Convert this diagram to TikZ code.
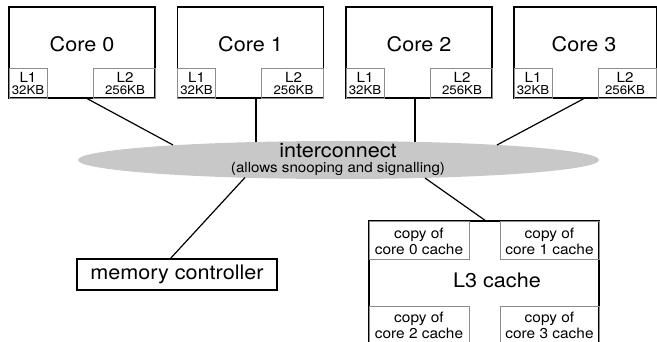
\documentclass[tikz,border=0pt]{standalone}
\usepackage{fontspec}
\setmainfont{TeX Gyre Heros}[FakeStretch=1.08]
\usetikzlibrary{shapes.geometric,calc}
\definecolor{ellgray}{HTML}{C8C8C8}
\definecolor{boxgray}{HTML}{8C8C8C}
\tikzset{
  outerbox/.style={draw=black, line width=1.2pt, inner sep=0pt, outer sep=0pt},
  innerbox/.style={draw=boxgray, line width=0.9pt, inner sep=0pt, outer sep=0pt},
  big/.style={font=\fontsize{20}{22}\selectfont, inner sep=0pt},
  lbl/.style={font=\fontsize{14}{14}\selectfont, inner sep=0pt, anchor=base},
  kb/.style={font=\fontsize{12.3}{12}\selectfont, inner sep=0pt, anchor=base},
  cpy/.style={font=\fontsize{14.3}{16}\selectfont, align=center, inner sep=0pt},
  conn/.style={draw=black, line width=1.2pt},
}
\begin{document}
\begin{tikzpicture}[x=1pt,y=-1pt]
\useasboundingbox (0,0) rectangle (657,342);
\clip (0,0) rectangle (657,342);
% cores
\foreach \n/\x/\w/\lw/\tx/\ltx in {0/9/146/62/82/125, 1/177.5/146/62/250.5/293.5, 2/346/146/62/419/462, 3/514/142.7/58.7/584/625}{
  \node[outerbox, anchor=north west, minimum width=\w pt, minimum height=91pt] (c\n) at (\x,7) {};
  \node[innerbox, anchor=south west, minimum width=38pt, minimum height=30pt] (c\n l1) at (c\n.south west) {};
  \node[innerbox, anchor=south east, minimum width=\lw pt, minimum height=30pt] (c\n l2) at (c\n.south east) {};
  \node[big] (c\n t) at (\tx,44) {Core \n};
  \node[lbl] (c\n a) at (\x+19,83) {L1};
  \node[kb] (c\n b) at (\x+19,94.5) {32KB};
  \node[lbl] (c\n c) at (\ltx,83) {L2};
  \node[kb] (c\n d) at (\ltx,95) {256KB};
}
% interconnect
\node[ellipse, fill=ellgray, minimum width=521pt, minimum height=38pt, inner sep=0pt] (ic) at (338.5,160) {};
\node[big] (ict) at (338,151) {interconnect};
\node[font=\fontsize{14}{15}\selectfont, inner sep=0pt] (ics) at (338,169) {(allows snooping and signalling)};
% connection points
\coordinate (e0) at (173,145);
\coordinate (e1) at (256,142);
\coordinate (e2) at (415,142);
\coordinate (e3) at (497,145);
\coordinate (em) at (245,177.5);
\coordinate (el) at (425,178);
\draw[conn] ($(c0.south west)+(77,0)$) -- (e0);
\draw[conn] (c1.south -| e1) -- (e1);
\draw[conn] (c2.south -| e2) -- (e2);
\draw[conn] ($(c3.south west)+(71,0)$) -- (e3);
% memory controller
\node[outerbox, anchor=north west, minimum width=200pt, minimum height=31pt] (mc) at (77,259) {};
\node[big] (mct) at (mc.center) {memory controller};
\draw[conn] (em) -- ($(mc.north west)+(93,0)$);
% L3
\node[outerbox, anchor=north west, minimum width=230pt, minimum height=125pt] (l3) at (369,221) {};
\node[innerbox, anchor=north west, minimum width=100pt, minimum height=38pt] (k0) at (l3.north west) {};
\node[innerbox, anchor=north east, minimum width=99pt, minimum height=38pt] (k1) at (l3.north east) {};
\node[innerbox, anchor=north west, minimum width=100pt, minimum height=40pt] (k2) at (369,306) {};
\node[innerbox, anchor=north west, minimum width=99pt, minimum height=40pt] (k3) at (500,306) {};
\node[cpy] (k0t) at (419,241) {copy of\\core 0 cache};
\node[cpy] (k1t) at (549.5,241) {copy of\\core 1 cache};
\node[cpy] (k2t) at (419,325.5) {copy of\\core 2 cache};
\node[cpy] (k3t) at (549.5,325.5) {copy of\\core 3 cache};
\node[big] (l3t) at (497,280) {L3 cache};
\draw[conn] (el) -- ($(l3.north west)+(117,0)$);
\end{tikzpicture}
\end{document}
